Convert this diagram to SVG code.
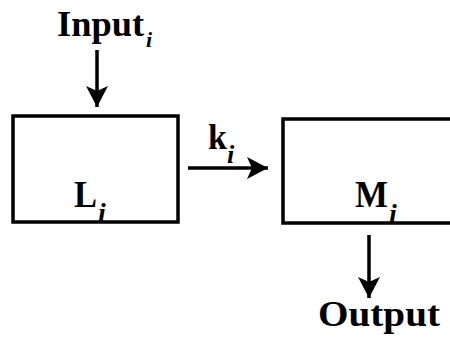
<svg xmlns="http://www.w3.org/2000/svg" width="450" height="341" viewBox="0 0 450 341">
<style>
.box{fill:#fff;stroke:#000;stroke-width:3.5}
.t{font-family:"Liberation Serif","Times New Roman",serif;font-weight:bold;fill:#000}
.sub{font-family:"Liberation Serif","Times New Roman",serif;font-weight:bold;font-style:italic;fill:#000}
.ln{stroke:#000;stroke-width:3.5;fill:none}
</style>
<defs>
<marker id="ah" markerWidth="22" markerHeight="22" refX="21" refY="11" orient="auto" markerUnits="userSpaceOnUse">
<path d="M0,0 L21,11 L0,22 L5,11 Z" fill="#000"/>
</marker>
</defs>
<rect width="450" height="341" fill="#fff"/>
<g id="input">
<text class="t" x="57" y="36" font-size="35" textLength="87" lengthAdjust="spacingAndGlyphs">Input</text>
<text class="sub" x="146" y="47" font-size="22">i</text>
</g>
<g id="L">
<rect class="box" x="13" y="116" width="165" height="106"/>
<text class="t" x="74" y="207" font-size="37" textLength="23" lengthAdjust="spacingAndGlyphs">L</text>
<text class="sub" x="98" y="222" font-size="28">i</text>
</g>
<g id="M">
<rect class="box" x="283" y="119" width="180" height="104"/>
<text class="t" x="355" y="207" font-size="37" textLength="33" lengthAdjust="spacingAndGlyphs">M</text>
<text class="sub" x="389" y="223" font-size="28">i</text>
</g>
<g id="output">
<text class="t" x="318" y="326" font-size="36" textLength="122" lengthAdjust="spacingAndGlyphs">Output</text>
</g>
<g id="connectors">
<line class="ln" x1="97" y1="50" x2="97" y2="107" marker-end="url(#ah)"/>
<line class="ln" x1="188" y1="168" x2="268" y2="168" marker-end="url(#ah)"/>
<text class="t" x="208" y="149" font-size="36" textLength="19" lengthAdjust="spacingAndGlyphs">k</text>
<text class="sub" x="227" y="163" font-size="26">i</text>
<line class="ln" x1="369" y1="235" x2="369" y2="298" marker-end="url(#ah)"/>
</g>
</svg>
